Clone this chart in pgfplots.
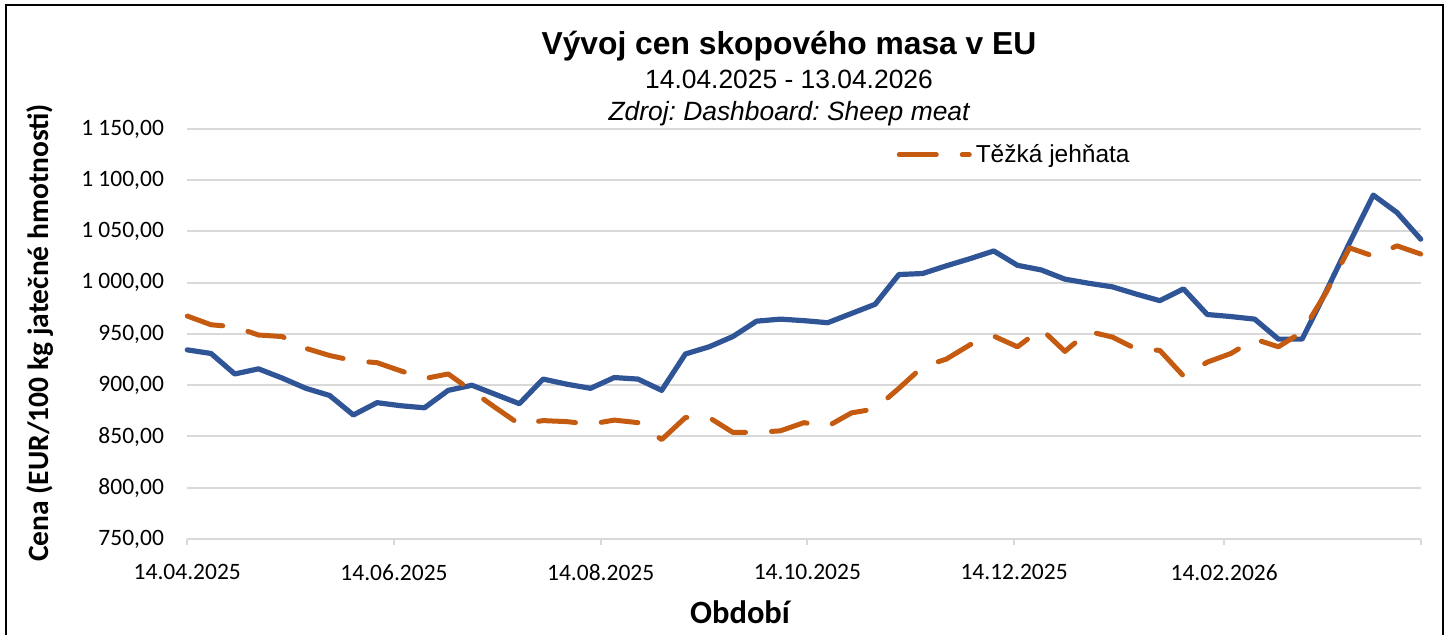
\documentclass[border=0pt]{standalone}
\usepackage{fontspec}
\setmainfont{Carlito}
\newfontfamily\arial{Liberation Sans}
\usepackage{pgfplots}
\pgfplotsset{compat=1.18}
\definecolor{cblue}{HTML}{2F5597}
\definecolor{corange}{HTML}{C55A11}
\definecolor{cgrid}{HTML}{D9D9D9}
\frenchspacing
\begin{document}
\begin{tikzpicture}
\useasboundingbox (0,0) rectangle (725.5pt,317.5pt);
\draw[line width=1pt,black] (3pt,-5pt) rectangle (721.5pt,315pt);
\begin{axis}[
  at={(93.65pt,48pt)}, anchor=south west,
  scale only axis, width=616.7pt, height=205pt,
  xmin=0, xmax=364, ymin=750, ymax=1150,
  axis x line*=bottom, axis y line*=left,
  x axis line style={draw=cgrid, line width=1pt},
  y axis line style={draw=none},
  xtick={0,61,122,183,244,306,364},
  xticklabels={14.04.2025,14.06.2025,14.08.2025,14.10.2025,14.12.2025,14.02.2026,},
  ytick={750,800,...,1150},
  yticklabels={{750,00},{800,00},{850,00},{900,00},{950,00},{1 000,00},{1 050,00},{1 100,00},{1 150,00}},
  tick align=outside,
  xtick style={draw=cgrid, line width=1pt},
  major tick length=3pt,
  ytick style={draw=none},
  ymajorgrids, grid style={draw=cgrid, line width=1pt},
  ticklabel style={font=\fontsize{11.75}{14}\selectfont},
  yticklabel style={anchor=east, inner sep=0pt, xshift=-8.5pt},
  xticklabel style={anchor=north, inner sep=0pt, yshift=-9.5pt},
  legend style={draw=none, fill=none, at={(0.57,0.937)}, anchor=west,
    font=\arial\fontsize{12.25}{14}\selectfont},
  legend cell align=left,
  legend image code/.code={\draw[#1] (0pt,0pt) -- (35pt,0pt);},
  clip=false,
]
\addplot[cblue, line width=2.6pt, line join=round, line cap=round, forget plot] table[x expr=7*\coordindex, y index=0] {
934.5
931
911
916
907
897
890
871
883
880
878
895
900
891
882
906
901
897
907.5
906
895
930.5
937.5
947.5
962.5
964.5
963
961
970
979
1008
1009
1016.5
1023.5
1031
1017
1012.5
1003.5
999.5
996
989
982.5
994
969
967
964.5
945
945
991
1039
1085.5
1068.5
1042.5
};
\addplot[corange, line width=2.5pt, line join=round, line cap=round, dash pattern=on 18.5pt off 13pt] table[x expr=7*\coordindex, y index=0] {
967.5
959
957
949
947.5
936
929
924
922
914
906.5
911
894.5
878
862
865.5
864.5
862
866
863.5
847
868.5
868.5
854
854
855.5
863.5
860
873
877
897
918
925.5
939.5
948
937.5
955
933
952.5
947
935.5
934
909
922.5
931
945
937.5
952
990
1034
1026
1036
1028
};
\addlegendentry{Těžká jehňata}
\end{axis}
\node[anchor=base, font=\arial\bfseries\fontsize{15.9}{18}\selectfont, inner sep=0pt] at (394.5pt,290.35pt) {Vývoj cen skopového masa v EU};
\node[anchor=base, font=\arial\fontsize{13.2}{16}\selectfont, inner sep=0pt] at (394.5pt,273.35pt) {14.04.2025 - 13.04.2026};
\node[anchor=base, font=\arial\itshape\fontsize{13.2}{16}\selectfont, inner sep=0pt] at (394.5pt,257pt) {Zdroj: Dashboard: Sheep meat};
\node[rotate=90, font=\bfseries\fontsize{14.75}{17}\selectfont, inner sep=0pt] at (20pt,151pt) {Cena (EUR/100 kg jatečné hmotnosti)};
\node[font=\bfseries\fontsize{16.25}{19}\selectfont, inner sep=0pt] at (370pt,11.5pt) {Období};
\end{tikzpicture}
\end{document}
